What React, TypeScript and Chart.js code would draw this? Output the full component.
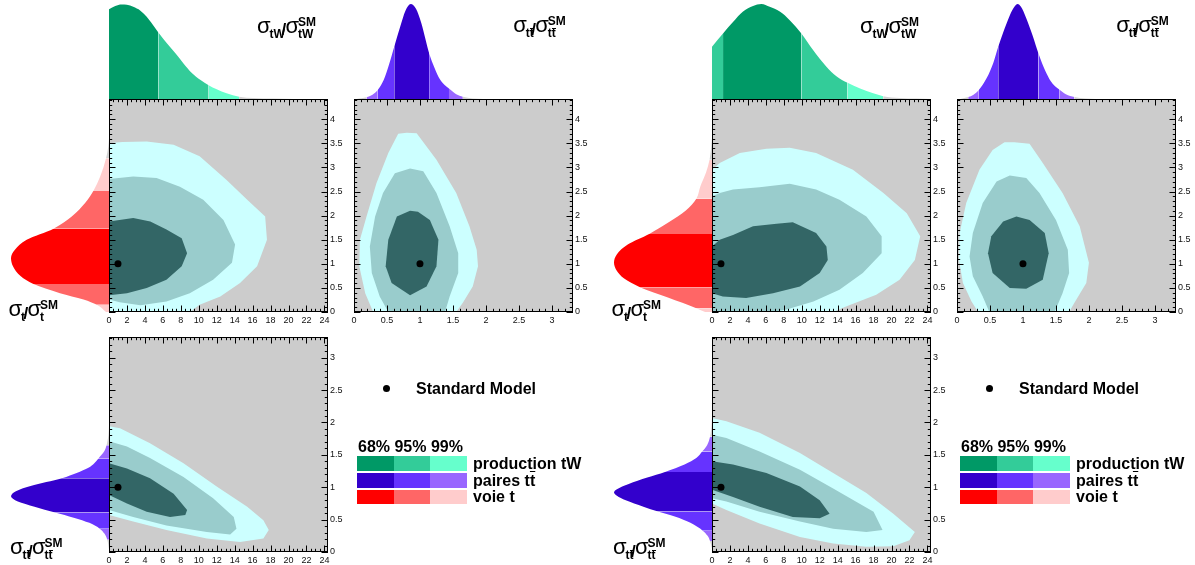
import React, { useEffect, useRef } from 'react';
import { Chart, registerables } from 'chart.js';
Chart.register(...registerables);

const FONT = "'Liberation Sans', Arial, Helvetica, sans-serif";

// ---------- axis ranges / ticks ----------
const TW_MAX = 24.4;
const T_MAX = 4.42;
const TT_MAX = 3.32;
const TW_TICKS = [2, 0.5];   // major label step, minor tick step
const T_TICKS = [0.5, 0.1];
const TT_TICKS = [0.5, 0.1];
const SM = [1, 1];

// ---------- colours ----------
const GREEN = ['#009966', '#33cc99', '#66ffcc'];
const PURPLE = ['#3300cc', '#6633ff', '#9966ff'];
const RED = ['#ff0000', '#ff6666', '#ffcccc'];
const CONTOUR = ['#336666', '#99cccc', '#ccffff'];
const TAIL = '#d2d2d2';
const PLOT_BG = '#cccccc';

// ---------- LEFT panel : marginals ----------
// bounds = [lo99, lo95, lo68, hi68, hi95, hi99]
const L_TW_X = [0, 0.7, 1.4, 2.0, 2.7, 3.5, 4.2, 4.9, 5.5, 6.4, 7.4, 8.3, 9.2, 10.2, 11.1, 12.0, 13.1, 14.5, 16.1, 18.3, 20.6];
const L_TW_D = [0.944, 0.98, 0.996, 0.993, 0.97, 0.93, 0.867, 0.78, 0.70, 0.593, 0.481, 0.375, 0.277, 0.2, 0.144, 0.102, 0.06, 0.025, 0.01, 0.004, 0];
const L_TW_BOUNDS = [-9, -9, -9, 5.5, 11.1, 14.5];

const L_TT_X = [0.04, 0.19, 0.28, 0.36, 0.45, 0.53, 0.61, 0.70, 0.78, 0.86, 0.94, 1.02, 1.08, 1.14, 1.22, 1.30, 1.37, 1.44, 1.55, 1.65, 1.80, 1.96];
const L_TT_D = [0, 0.018, 0.045, 0.095, 0.2, 0.36, 0.55, 0.76, 0.93, 1.0, 0.95, 0.8, 0.64, 0.48, 0.33, 0.21, 0.15, 0.11, 0.05, 0.025, 0.006, 0];
const L_TT_BOUNDS = [0.19, 0.36, 0.61, 1.14, 1.44, 1.65];

const L_T_Y = [0, 0.15, 0.26, 0.39, 0.58, 0.74, 0.95, 1.12, 1.29, 1.5, 1.73, 1.98, 2.26, 2.51, 2.81, 3.19, 3.43, 3.6];
const L_T_D = [0.03, 0.125, 0.26, 0.5, 0.77, 0.9, 0.98, 1.0, 0.96, 0.84, 0.566, 0.38, 0.244, 0.16, 0.09, 0.03, 0.007, 0];
const L_T_BOUNDS = [-9, 0.15, 0.58, 1.73, 2.51, 3.19];

// ---------- LEFT panel : contours ----------
const L_A99 = [[-1, 3.5], [0, 3.5], [1.5, 3.53], [4.2, 3.54], [7.2, 3.47], [10.1, 3.23], [13.1, 2.74], [15.4, 2.33], [17.4, 1.98], [17.6, 1.5], [16.5, 0.95], [14.6, 0.6], [12.4, 0.32], [10.1, 0.15], [9.0, 0], [9.0, -1], [-1, -1]];
const L_A95 = [[-1, 2.74], [0, 2.76], [2.7, 2.81], [5.3, 2.78], [7.9, 2.6], [10.5, 2.33], [12.75, 1.91], [14.05, 1.4], [13.7, 1.02], [11.6, 0.67], [9.0, 0.39], [6.4, 0.22], [3.5, 0.14], [1.2, 0.2], [0, 0.26], [-1, 0.26]];
const L_A68 = [[-1, 1.88], [0, 1.88], [2.7, 1.95], [4.6, 1.88], [6.4, 1.71], [8.1, 1.53], [8.7, 1.22], [8.1, 0.95], [6.4, 0.67], [4.2, 0.5], [2.0, 0.39], [0, 0.35], [-1, 0.35]];

const L_B99 = [[0.8, 3.72], [0.67, 3.7], [0.52, 3.3], [0.34, 2.67], [0.19, 1.98], [0.09, 1.5], [0.08, 0.95], [0.17, 0.39], [0.29, 0], [0.29, -0.5], [1.55, -0.5], [1.55, 0], [1.65, 0.19], [1.8, 0.53], [1.88, 0.95], [1.86, 1.29], [1.75, 1.78], [1.55, 2.47], [1.25, 3.16], [0.95, 3.71]];
const L_B95 = [[0.85, 2.98], [0.62, 2.88], [0.44, 2.47], [0.32, 1.98], [0.24, 1.36], [0.27, 0.81], [0.39, 0.32], [0.52, 0], [0.52, -0.5], [1.38, -0.5], [1.38, 0], [1.45, 0.32], [1.58, 0.81], [1.58, 1.22], [1.45, 1.78], [1.25, 2.47], [1.05, 2.92]];
const L_B68 = [[0.85, 2.1], [0.65, 1.98], [0.52, 1.5], [0.48, 0.95], [0.57, 0.6], [0.85, 0.35], [1.1, 0.53], [1.25, 0.95], [1.28, 1.5], [1.15, 1.91], [0.97, 2.08]];

const L_C99 = [[-1, 1.94], [0, 1.94], [1.23, 1.91], [4.57, 1.68], [8.3, 1.37], [12.0, 1.01], [15.4, 0.7], [17.2, 0.49], [17.8, 0.34], [17.2, 0.21], [14.6, 0.155], [10.9, 0.21], [6.4, 0.34], [2.7, 0.47], [0, 0.57], [-1, 0.6]];
const L_C95 = [[-1, 1.71], [0, 1.71], [2.0, 1.63], [4.57, 1.45], [8.3, 1.16], [11.6, 0.83], [13.9, 0.54], [14.2, 0.36], [13.5, 0.27], [10.9, 0.31], [6.4, 0.41], [2.7, 0.54], [0, 0.65], [-1, 0.68]];
const L_C68 = [[-1, 1.37], [0, 1.37], [2.0, 1.29], [4.57, 1.14], [7.2, 0.9], [8.7, 0.65], [8.5, 0.57], [6.8, 0.54], [4.2, 0.62], [2.0, 0.75], [0, 0.88], [-1, 0.92]];

// ---------- RIGHT panel : marginals ----------
const R_TW_X = [0, 1.23, 2.34, 3.46, 4.57, 5.5, 6.43, 7.55, 8.66, 9.96, 11.26, 12.75, 13.86, 15.1, 16.5, 17.96, 19.07, 20.9, 22.8, 24.4];
const R_TW_D = [0.55, 0.69, 0.81, 0.92, 0.98, 1.0, 0.97, 0.92, 0.83, 0.69, 0.516, 0.34, 0.24, 0.17, 0.11, 0.06, 0.03, 0.01, 0.004, 0];
const R_TW_BOUNDS = [-9, -9, 1.23, 9.96, 15.1, 19.07];

const R_TT_X = [0.05, 0.17, 0.25, 0.33, 0.45, 0.55, 0.625, 0.7, 0.8, 0.87, 0.92, 0.97, 1.05, 1.15, 1.235, 1.35, 1.45, 1.55, 1.65, 1.78, 1.95, 2.1];
const R_TT_D = [0, 0.02, 0.045, 0.095, 0.22, 0.38, 0.55, 0.7, 0.88, 0.97, 1.0, 0.97, 0.85, 0.66, 0.48, 0.28, 0.16, 0.1, 0.05, 0.02, 0.005, 0];
const R_TT_BOUNDS = [0.17, 0.33, 0.625, 1.235, 1.55, 1.78];

const R_T_Y = [0, 0.08, 0.3, 0.51, 0.7, 0.85, 1.02, 1.2, 1.4, 1.62, 1.85, 2.1, 2.35, 2.6, 2.9, 3.16, 3.6];
const R_T_D = [0.07, 0.16, 0.45, 0.73, 0.9, 0.97, 1.0, 0.97, 0.86, 0.64, 0.45, 0.27, 0.16, 0.12, 0.06, 0.025, 0];
const R_T_BOUNDS = [-9, 0.08, 0.51, 1.62, 2.35, 3.16];

// ---------- RIGHT panel : contours ----------
const R_A99 = [[-1, 2.9], [0, 2.95], [0.86, 3.09], [3.1, 3.3], [6.06, 3.39], [8.66, 3.41], [11.6, 3.3], [15.7, 2.95], [19.1, 2.47], [21.7, 2.05], [23.2, 1.57], [22.6, 1.08], [20.9, 0.67], [18.3, 0.36], [15.0, 0.12], [13.5, 0], [13.5, -1], [-1, -1]];
const R_A95 = [[-1, 2.38], [0, 2.4], [0.86, 2.47], [2.34, 2.54], [5.3, 2.59], [8.66, 2.66], [11.6, 2.54], [14.2, 2.33], [17.2, 1.98], [18.9, 1.57], [18.9, 1.22], [16.8, 0.81], [14.2, 0.46], [11.3, 0.22], [8.3, 0.05], [6.8, 0], [6.8, -1], [-1, -1]];
const R_A68 = [[-1, 1.3], [0, 1.36], [0.86, 1.5], [2.34, 1.6], [4.57, 1.78], [7.2, 1.83], [9.0, 1.86], [11.6, 1.64], [12.75, 1.36], [12.9, 1.08], [12.0, 0.81], [9.8, 0.53], [6.8, 0.39], [3.8, 0.29], [1.2, 0.32], [0, 0.39], [-1, 0.45]];

const R_B99 = [[0.87, 3.52], [0.72, 3.52], [0.54, 3.36], [0.34, 2.95], [0.14, 2.26], [0.04, 1.64], [0.03, 1.08], [0.09, 0.6], [0.22, 0.22], [0.32, 0], [0.32, -0.5], [1.7, -0.5], [1.7, 0], [1.78, 0.19], [1.96, 0.6], [2.0, 1.02], [1.86, 1.78], [1.6, 2.47], [1.3, 3.09], [1.1, 3.49]];
const R_B95 = [[0.8, 2.83], [0.6, 2.71], [0.39, 2.26], [0.24, 1.64], [0.19, 1.15], [0.24, 0.74], [0.39, 0.32], [0.49, 0], [0.49, -0.5], [1.48, -0.5], [1.48, 0], [1.6, 0.39], [1.7, 0.81], [1.68, 1.29], [1.5, 1.91], [1.25, 2.47], [1.05, 2.78]];
const R_B68 = [[0.9, 1.98], [0.7, 1.88], [0.52, 1.57], [0.47, 1.22], [0.54, 0.81], [0.8, 0.5], [1.05, 0.48], [1.3, 0.67], [1.39, 1.22], [1.33, 1.64], [1.1, 1.91]];

const R_C99 = [[-1, 2.07], [0, 2.07], [1.6, 2.02], [5.3, 1.84], [9.8, 1.53], [13.5, 1.22], [17.2, 0.91], [20.2, 0.59], [22.6, 0.31], [22.0, 0.18], [20.2, 0.09], [17.2, 0.08], [13.5, 0.13], [9.8, 0.23], [5.3, 0.44], [1.6, 0.65], [0, 0.75], [-1, 0.8]];
const R_C95 = [[-1, 1.81], [0, 1.81], [1.6, 1.76], [5.3, 1.55], [9.8, 1.27], [13.5, 0.98], [18.0, 0.62], [19.0, 0.34], [17.2, 0.31], [13.5, 0.36], [9.8, 0.47], [5.3, 0.62], [1.6, 0.78], [0, 0.83], [-1, 0.85]];
const R_C68 = [[-1, 1.4], [0, 1.4], [2.34, 1.35], [6.06, 1.22], [9.8, 1.01], [12.0, 0.8], [13.1, 0.59], [12.0, 0.52], [9.0, 0.54], [5.3, 0.7], [2.34, 0.85], [0, 0.96], [-1, 1.0]];

// ---------- legend text ----------
const LEVELS = ['68%', '95%', '99%'];
const LEGEND_ROWS = [
  { colors: GREEN, label: 'production tW' },
  { colors: PURPLE, label: 'paires tt' },
  { colors: RED, label: 'voie t' },
];

// ---------- plugins ----------
const bgPlugin = {
  id: 'plotBg',
  beforeDraw(chart: any, _a: any, opts: any) {
    if (!opts || !opts.color) return;
    const { ctx, chartArea: a } = chart;
    ctx.save();
    ctx.fillStyle = opts.color;
    ctx.fillRect(a.left, a.top, a.right - a.left, a.bottom - a.top);
    ctx.restore();
  },
};

const frameTicksPlugin = {
  id: 'frameTicks',
  afterDatasetsDraw(chart: any, _a: any, opts: any) {
    if (!opts || !opts.x) return;
    const { ctx, chartArea: a, scales } = chart;
    ctx.save();
    ctx.strokeStyle = '#000';
    ctx.lineWidth = 1;
    ctx.beginPath();
    const axis = (scale: any, major: number, minor: number, horiz: boolean) => {
      const n = Math.floor(scale.max / minor + 1e-6);
      for (let i = 0; i <= n; i++) {
        const v = i * minor;
        const isMajor = Math.abs(v / major - Math.round(v / major)) < 1e-6;
        const L = isMajor ? 6.5 : 3.2;
        const p = Math.round(scale.getPixelForValue(v)) + 0.5;
        if (horiz) {
          ctx.moveTo(p, a.bottom); ctx.lineTo(p, a.bottom - L);
          ctx.moveTo(p, a.top); ctx.lineTo(p, a.top + L);
        } else {
          ctx.moveTo(a.left, p); ctx.lineTo(a.left + L, p);
          ctx.moveTo(a.right, p); ctx.lineTo(a.right - L, p);
        }
      }
    };
    axis(scales.x, opts.x[0], opts.x[1], true);
    axis(scales.y, opts.y[0], opts.y[1], false);
    ctx.stroke();
    ctx.strokeRect(a.left + 0.5, a.top + 0.5, a.right - a.left - 1, a.bottom - a.top - 1);
    ctx.restore();
  },
};

const fmt = (v: any) => String(+Number(v).toFixed(2));

const PAD = 12;
const YAX_W = 22;
const XAX_H = 14;

function make2D(xMax: number, yMax: number, xt: number[], yt: number[], c99: number[][], c95: number[][], c68: number[][]) {
  const poly = (pts: number[][], color: string, order: number) => ({
    data: pts.map((p) => ({ x: p[0], y: p[1] })),
    showLine: true,
    fill: 'shape',
    backgroundColor: color,
    borderColor: 'transparent',
    borderWidth: 0,
    pointRadius: 0,
    tension: 0,
    order,
  });
  const tickFont = { size: 9, family: FONT };
  return {
    type: 'scatter',
    data: {
      datasets: [
        { data: [{ x: SM[0], y: SM[1] }], pointRadius: 3.5, pointBackgroundColor: '#000', pointBorderColor: '#000', pointBorderWidth: 0, showLine: false, order: 0 },
        poly(c68, CONTOUR[0], 1),
        poly(c95, CONTOUR[1], 2),
        poly(c99, CONTOUR[2], 3),
      ],
    },
    options: {
      responsive: false,
      animation: false,
      events: [],
      layout: { padding: { left: PAD, top: PAD, right: PAD, bottom: PAD } },
      scales: {
        x: {
          type: 'linear', min: 0, max: xMax, position: 'bottom',
          afterFit: (s: any) => { s.height = XAX_H; },
          ticks: { stepSize: xt[0], includeBounds: false, autoSkip: false, maxRotation: 0, font: tickFont, color: '#111', padding: 3, callback: fmt },
          grid: { display: false, drawTicks: false },
          border: { display: false },
        },
        y: {
          type: 'linear', min: 0, max: yMax, position: 'right',
          afterFit: (s: any) => { s.width = YAX_W; },
          ticks: { stepSize: yt[0], includeBounds: false, autoSkip: false, font: tickFont, color: '#111', padding: 2, callback: fmt },
          grid: { display: false, drawTicks: false },
          border: { display: false },
        },
      },
      plugins: {
        legend: { display: false },
        tooltip: { enabled: false },
        plotBg: { color: PLOT_BG },
        frameTicks: { x: xt, y: yt },
      },
    },
    plugins: [bgPlugin, frameTicksPlugin],
  };
}

function makeMarginal(vals: number[], dens: number[], bounds: number[], colors: string[], vMax: number, horizontal: boolean) {
  const [lo99, lo95, lo68, hi68, hi95, hi99] = bounds;
  const colorAt = (v: number) =>
    v >= lo68 && v <= hi68 ? colors[0] : v >= lo95 && v <= hi95 ? colors[1] : v >= lo99 && v <= hi99 ? colors[2] : TAIL;
  const key = horizontal ? 'y' : 'x';
  return {
    type: 'line',
    data: {
      datasets: [{
        data: vals.map((v, i) => (horizontal ? { x: dens[i], y: v } : { x: v, y: dens[i] })),
        fill: 'origin',
        backgroundColor: TAIL,
        borderColor: 'transparent',
        borderWidth: 0,
        pointRadius: 0,
        cubicInterpolationMode: 'monotone',
        segment: {
          backgroundColor: (c: any) => colorAt((c.p0.parsed[key] + c.p1.parsed[key]) / 2),
        },
      }],
    },
    options: {
      responsive: false,
      animation: false,
      events: [],
      indexAxis: horizontal ? 'y' : 'x',
      layout: { padding: 0 },
      scales: horizontal
        ? { x: { type: 'linear', min: 0, max: 1, reverse: true, display: false }, y: { type: 'linear', min: 0, max: vMax, display: false } }
        : { x: { type: 'linear', min: 0, max: vMax, display: false }, y: { type: 'linear', min: 0, max: 1, display: false } },
      plugins: { legend: { display: false }, tooltip: { enabled: false } },
    },
  };
}

function ChartBox({ left, top, width, height, make }: any) {
  const ref = useRef<HTMLCanvasElement>(null);
  useEffect(() => {
    const chart = new Chart(ref.current as HTMLCanvasElement, make() as any);
    return () => chart.destroy();
  }, []);
  return <canvas ref={ref} width={width} height={height} style={{ position: 'absolute', left, top, width, height }} />;
}

function Txt({ x, b, fs, bold = false, children }: any) {
  return (
    <span style={{ position: 'absolute', left: x, top: b - 0.8465 * fs, fontFamily: FONT, fontSize: fs, lineHeight: `${fs}px`, fontWeight: bold ? 700 : 400, whiteSpace: 'nowrap', color: '#000' }}>
      {children}
    </span>
  );
}

const Bar = ({ children }: any) => <span style={{ textDecoration: 'overline' }}>{children}</span>;

// small "t" with a bar drawn just above it (used in sub-scripts)
const TBar = () => (
  <span style={{ position: 'relative', display: 'inline-block' }}>
    t
    <span style={{ position: 'absolute', left: 0.5, right: 0, top: 0.3, height: 1.3, background: '#000' }} />
  </span>
);

function Ratio({ x, b, sub, gap }: any) {
  const s2 = x + 12.5 + gap + 2.5;
  return (
    <>
      <Txt x={x} b={b} fs={22}>σ</Txt>
      <Txt x={x + 12.5} b={b + 4.5} fs={12} bold>{sub}</Txt>
      <Txt x={x + 11 + gap} b={b + 2.5} fs={17} bold>/</Txt>
      <Txt x={s2} b={b} fs={22}>σ</Txt>
      <Txt x={s2 + 12.5} b={b - 7.5} fs={12} bold>SM</Txt>
      <Txt x={s2 + 12.5} b={b + 4.5} fs={12} bold>{sub}</Txt>
    </>
  );
}

const TT = <>t<TBar /></>;

function Legend({ dx }: any) {
  const colX = [357, 394, 430];
  const rowY = [456, 473, 489.5];
  const labelB = [470, 486.5, 502.5];
  return (
    <>
      <div style={{ position: 'absolute', left: 383 + dx, top: 384.5, width: 7, height: 7, borderRadius: '50%', background: '#000' }} />
      <Txt x={416 + dx} b={395} fs={16} bold>Standard Model</Txt>
      <Txt x={358 + dx} b={453} fs={16} bold>{LEVELS.join(' ')}</Txt>
      {LEGEND_ROWS.map((row, r) => (
        <React.Fragment key={r}>
          {row.colors.map((c, k) => (
            <div key={k} style={{ position: 'absolute', left: colX[k] + dx, top: rowY[r], width: k === 2 ? 37 : colX[k + 1] - colX[k], height: 14.5, background: c }} />
          ))}
          <Txt x={473 + dx} b={labelB[r]} fs={16} bold>
            {r === 1 ? <>paires t<Bar>t</Bar></> : row.label}
          </Txt>
        </React.Fragment>
      ))}
    </>
  );
}

function Panel({ dx, tw, tt, t, A, B, C }: any) {
  const aL = 109 + dx, bL = 354 + dx;
  return (
    <>
      {/* marginals */}
      <ChartBox left={aL} top={4} width={219} height={95} make={() => makeMarginal(tw.x, tw.d, tw.b, GREEN, TW_MAX, false)} />
      <ChartBox left={bL} top={4} width={219} height={95} make={() => makeMarginal(tt.x, tt.d, tt.b, PURPLE, TT_MAX, false)} />
      <ChartBox left={11 + dx} top={99} width={98} height={213} make={() => makeMarginal(t.x, t.d, t.b, RED, T_MAX, true)} />
      <ChartBox left={11 + dx} top={337} width={98} height={215} make={() => makeMarginal(tt.x, tt.d, tt.b, PURPLE, TT_MAX, true)} />
      {/* 2D plots */}
      <ChartBox left={aL - PAD} top={99 - PAD} width={219 + 2 * PAD + YAX_W} height={213 + 2 * PAD + XAX_H}
        make={() => make2D(TW_MAX, T_MAX, TW_TICKS, T_TICKS, A[0], A[1], A[2])} />
      <ChartBox left={bL - PAD} top={99 - PAD} width={219 + 2 * PAD + YAX_W} height={213 + 2 * PAD + XAX_H}
        make={() => make2D(TT_MAX, T_MAX, TT_TICKS, T_TICKS, B[0], B[1], B[2])} />
      <ChartBox left={aL - PAD} top={337 - PAD} width={219 + 2 * PAD + YAX_W} height={215 + 2 * PAD + XAX_H}
        make={() => make2D(TW_MAX, TT_MAX, TW_TICKS, TT_TICKS, C[0], C[1], C[2])} />
      {/* titles */}
      <Ratio x={257 + dx} b={33.3} sub="tW" gap={13.5} />
      <Ratio x={513.3 + dx} b={33} sub={TT} gap={7} />
      <Ratio x={8.5 + dx} b={316.5} sub="t" gap={4} />
      <Ratio x={10 + dx} b={555} sub={TT} gap={7} />
      <Legend dx={dx} />
    </>
  );
}

export default function App() {
  return (
    <div style={{ position: 'absolute', left: 0, top: 0, width: 1195, height: 565, background: '#fff', overflow: 'hidden' }}>
      <Panel dx={0}
        tw={{ x: L_TW_X, d: L_TW_D, b: L_TW_BOUNDS }}
        tt={{ x: L_TT_X, d: L_TT_D, b: L_TT_BOUNDS }}
        t={{ x: L_T_Y, d: L_T_D, b: L_T_BOUNDS }}
        A={[L_A99, L_A95, L_A68]} B={[L_B99, L_B95, L_B68]} C={[L_C99, L_C95, L_C68]} />
      <Panel dx={603}
        tw={{ x: R_TW_X, d: R_TW_D, b: R_TW_BOUNDS }}
        tt={{ x: R_TT_X, d: R_TT_D, b: R_TT_BOUNDS }}
        t={{ x: R_T_Y, d: R_T_D, b: R_T_BOUNDS }}
        A={[R_A99, R_A95, R_A68]} B={[R_B99, R_B95, R_B68]} C={[R_C99, R_C95, R_C68]} />
    </div>
  );
}
